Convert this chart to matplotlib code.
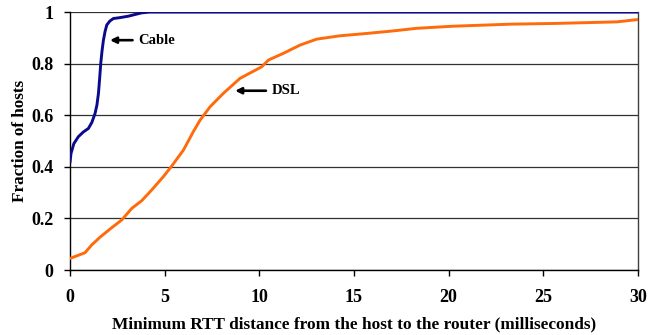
import matplotlib
matplotlib.use("Agg")
import matplotlib.pyplot as plt

# RTT (ms) vs fraction of hosts
cable_rtt = [0.0, 0.05, 0.2, 0.44, 0.7, 0.97, 1.15, 1.32, 1.42, 1.50, 1.56, 1.62, 1.69, 1.76, 1.85, 1.94, 2.1,
             2.29, 2.6, 3.08, 3.4, 3.79, 4.2, 10.0, 20.0, 30.0]
cable_frac = [0.42, 0.452, 0.49, 0.517, 0.535, 0.549, 0.572, 0.607, 0.64, 0.685, 0.74, 0.80, 0.85, 0.89, 0.925,
              0.95, 0.965, 0.975, 0.978, 0.984, 0.99, 0.997, 1.0, 1.0, 1.0, 1.0]

dsl_rtt = [0.0, 0.79, 1.14, 1.58, 2.20, 2.73, 3.26, 3.79, 4.31, 4.93, 5.37, 5.99, 6.51, 6.87, 7.40, 8.10, 8.98,
           10.13, 10.48, 11.27, 12.15, 13.03, 14.26, 15.67, 17.08, 18.31, 20.2, 23.24, 25.7, 28.9, 30.0]
dsl_frac = [0.045, 0.067, 0.097, 0.127, 0.164, 0.194, 0.239, 0.269, 0.310, 0.362, 0.403, 0.465, 0.536, 0.581,
            0.633, 0.685, 0.743, 0.788, 0.814, 0.84, 0.872, 0.895, 0.908, 0.917, 0.927, 0.937, 0.945, 0.953,
            0.956, 0.962, 0.971]

x_ticks = [0, 5, 10, 15, 20, 25, 30]
y_ticks = [0, 0.2, 0.4, 0.6, 0.8, 1.0]
y_tick_labels = ["0", "0.2", "0.4", "0.6", "0.8", "1"]

plt.rcParams["font.family"] = ["Liberation Serif", "DejaVu Serif"]
plt.rcParams["font.weight"] = "bold"

fig, ax = plt.subplots(figsize=(6.61, 3.35), dpi=100)
fig.subplots_adjust(left=0.106, right=0.965, top=0.964, bottom=0.194)

ax.plot(cable_rtt, cable_frac, color="#0a0a8c", linewidth=2.1, zorder=3)
ax.plot(dsl_rtt, dsl_frac, color="#ff6a0a", linewidth=2.1, zorder=3)

ax.set_xlim(0, 30)
ax.set_ylim(0, 1)
ax.set_xticks(x_ticks)
ax.set_yticks(y_ticks)
ax.set_yticklabels(y_tick_labels)
ax.tick_params(axis="both", labelsize=13, length=4, width=1, direction="out", color="black")
ax.tick_params(axis="x", pad=10)
ax.tick_params(axis="y", pad=8)
for lbl in ax.get_xticklabels() + ax.get_yticklabels():
    lbl.set_fontweight("bold")

ax.grid(axis="y", color="#303030", linewidth=0.9)
ax.set_axisbelow(True)
for side in ["left", "bottom", "right"]:
    ax.spines[side].set_color("black")
    ax.spines[side].set_linewidth(1.0)
ax.spines["right"].set_color("#404040")
ax.spines["top"].set_visible(False)

ax.set_xlabel("Minimum RTT distance from the host to the router (milliseconds)", fontsize=12.4,
              fontweight="bold", labelpad=7)
ax.set_ylabel("Fraction of hosts", fontsize=12.3, fontweight="bold", labelpad=2)

arrow = dict(arrowstyle="-|>", color="black", lw=1.9, mutation_scale=9, shrinkA=0, shrinkB=0)
ax.annotate("", xy=(2.11, 0.891), xytext=(3.3, 0.891), arrowprops=arrow)
ax.text(3.6, 0.891, "Cable", fontsize=10.5, fontweight="bold", va="center", ha="left")
ax.annotate("", xy=(8.72, 0.695), xytext=(10.35, 0.695), arrowprops=arrow)
ax.text(10.65, 0.695, "DSL", fontsize=10.5, fontweight="bold", va="center", ha="left")

fig.savefig("out.png", dpi=100)
